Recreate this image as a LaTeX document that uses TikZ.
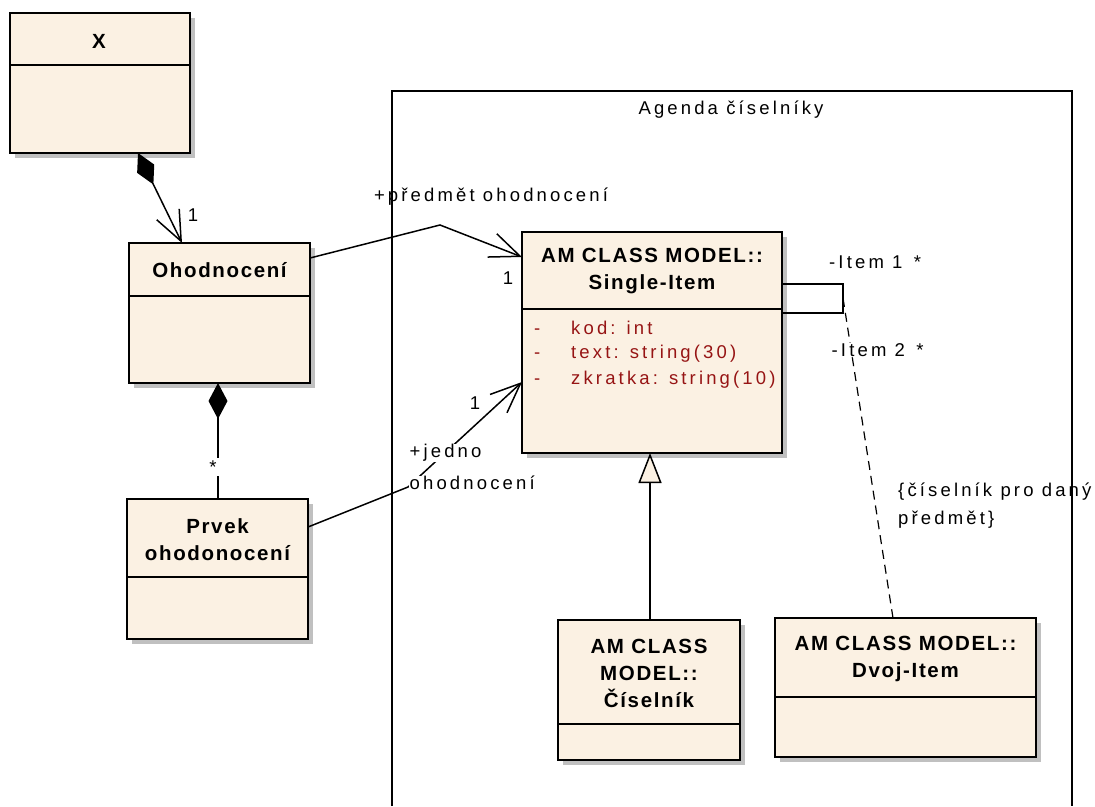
\documentclass[tikz,border=0pt]{standalone}
\usepackage{fontspec}
\setmainfont{Liberation Sans}
\newfontfamily\umlfont[LetterSpace=17]{Liberation Sans}
\newfontfamily\umlbold[LetterSpace=8]{Liberation Sans}
\usetikzlibrary{arrows.meta,shadows,calc}
\definecolor{classfill}{RGB}{251,241,227}
\definecolor{shadowgray}{RGB}{192,192,192}
\definecolor{attrred}{RGB}{150,20,20}

\begin{document}
\begin{tikzpicture}[x=1pt,y=-1pt,
  classbox/.style={draw=black, line width=1.8pt, fill=classfill, anchor=north west,
    inner sep=0pt, outer sep=0pt,
    drop shadow={shadow xshift=5pt, shadow yshift=-5pt, fill=shadowgray, opacity=1}},
  divider/.style={line width=1.6pt},
  title/.style={font=\umlbold\bfseries\fontsize{20.5}{27}\selectfont, align=center, inner sep=0pt},
  lbl/.style={font=\umlfont\fontsize{18.5}{28}\selectfont, inner sep=1pt},
  attr/.style={lbl, text=attrred, anchor=west},
  conn/.style={line width=1.5pt},
  navarrow/.style={-{Straight Barb[length=30pt,width=25pt,line width=1.5pt]}},
]
% page
\useasboundingbox (0,0) rectangle (1095,806);
\fill[white] (0,0) rectangle (1095,806);

% package frame
\draw[line width=1.5pt] (392,806) -- (392,91) -- (1072,91) -- (1072,806);
\node[lbl] (pkg) at (731,110) {Agenda číselníky};

% classes
\node[classbox, minimum width=180pt, minimum height=140pt] (xcls) at (10,13) {};
\draw[divider] (xcls.west |- 0,65) -- (xcls.east |- 0,65);
\node[title] (xtitle) at (99,41) {X};

\node[classbox, minimum width=181pt, minimum height=140pt] (ohod) at (129,243) {};
\draw[divider] (ohod.west |- 0,296) -- (ohod.east |- 0,296);
\node[title] (ohodtitle) at (219.5,270) {Ohodnocení};

\node[classbox, minimum width=181pt, minimum height=140pt] (prvek) at (127,499) {};
\draw[divider] (prvek.west |- 0,577) -- (prvek.east |- 0,577);
\node[title] (prvektitle) at (217.5,540) {Prvek\\ohodonocení};

\node[classbox, minimum width=260pt, minimum height=221pt] (single) at (522,232) {};
\draw[divider] (single.west |- 0,309) -- (single.east |- 0,309);
\node[title] (singletitle) at (652,271.5) {AM CLASS MODEL::\\Single-Item};
\node[attr] (a1) at (533,328) {\makebox[37pt][l]{-}kod: int};
\node[attr] (a2) at (533,354) {\makebox[37pt][l]{-}text: string(30)};
\node[attr] (a3) at (533,380) {\makebox[37pt][l]{-}zkratka: string(10)};

\node[classbox, minimum width=182pt, minimum height=140pt] (cis) at (558,620) {};
\draw[divider] (cis.west |- 0,724) -- (cis.east |- 0,724);
\node[title] (cistitle) at (649,673.5) {AM CLASS\\MODEL::\\Číselník};

\node[classbox, minimum width=261pt, minimum height=139pt] (dvoj) at (775,618) {};
\draw[divider] (dvoj.west |- 0,697) -- (dvoj.east |- 0,697);
\node[title] (dvojtitle) at (905.5,658.5) {AM CLASS MODEL::\\Dvoj-Item};

% composition X -> Ohodnocení
\draw[conn, {Diamond[length=35pt,width=19pt]}-{Straight Barb[length=30pt,width=25pt,line width=1.5pt]}]
  ([xshift=38pt]xcls.south) -- ([xshift=-37.5pt]ohod.north);
\node[lbl] (m1) at (193,215) {1};

% composition Ohodnocení -> Prvek
\draw[conn, {Diamond[length=36pt,width=19pt]}-]
  ([xshift=-1.5pt]ohod.south) -- ([xshift=-1.5pt]ohod.south |- prvek.north);
\node[lbl, fill=white, inner sep=3pt] (m2) at (213,467) {*};

% association Ohodnocení -> Single-Item
\coordinate (bendA) at (440,225);
\draw[conn, navarrow] ([yshift=-15pt]ohod.north east) -- (bendA) -- ([yshift=-25pt]single.north west);
\node[lbl] (r1) at (491,197) {+předmět ohodnocení};
\node[lbl] (m3) at (508,278) {1};

% association Prvek -> Single-Item
\coordinate (bendB) at (408,487);
\draw[conn, navarrow] ([yshift=-28pt]prvek.north east) -- (bendB) -- ([yshift=-150pt]single.north west);
\node[lbl, fill=white, anchor=west, inner sep=0.5pt] (r2a) at (409,453) {+jedno};
\node[lbl, fill=white, anchor=west, inner sep=0.5pt] (r2b) at (409,483) {ohodnocení};
\node[lbl] (m4) at (475,403) {1};

% self association of Single-Item
\coordinate (loopA) at (843,284);
\coordinate (loopB) at (843,313);
\draw[conn] ([yshift=-52pt]single.north east) -- (loopA) -- (loopB) -- ([yshift=-81pt]single.north east);
\node[lbl, anchor=west] (i1) at (828,262) {-Item 1 \,*};

% constraint link to Dvoj-Item
\coordinate (loopM) at (843,298);
\draw[line width=1.2pt, dash pattern=on 9pt off 6pt] (loopM) -- ([xshift=-12.5pt]dvoj.north);
\node[lbl, fill=white, anchor=west, inner sep=0.5pt] (i2) at (831,350) {-Item 2 \,*};
\node[lbl, anchor=west] (c1) at (897,492) {\{číselník pro daný};
\node[lbl, anchor=west] (c2) at (897,520) {předmět\}};

% generalization Číselník -> Single-Item
\draw[conn, -{Triangle[length=30pt,width=23pt,fill=classfill,line width=1.5pt]}]
  ([xshift=1pt]cis.north) -- ([xshift=1pt]cis.north |- single.south);
\end{tikzpicture}
\end{document}
